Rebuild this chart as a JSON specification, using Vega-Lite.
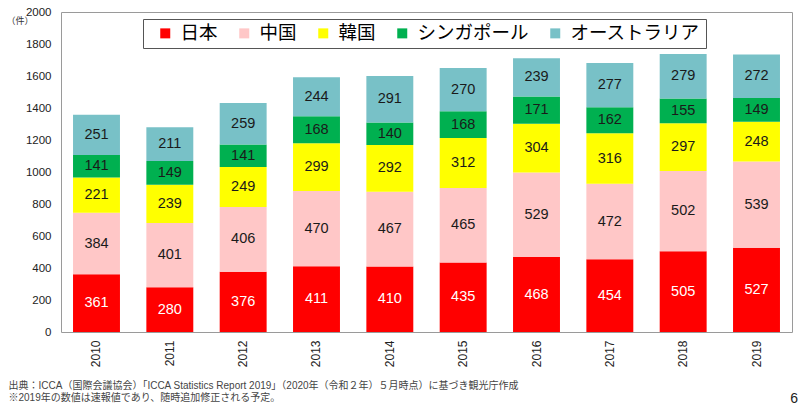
{
  "$schema": "https://vega.github.io/schema/vega-lite/v6.json",
  "width": 731,
  "height": 320,
  "autosize": {"type": "none"},
  "padding": {"left": 61, "top": 12, "right": 8, "bottom": 79},
  "background": "white",
  "config": {
    "font": "Liberation Sans, Noto Sans CJK JP",
    "view": {"stroke": "#9a9a9a", "strokeWidth": 1}
  },
  "title": {"text": "6", "orient": "bottom", "anchor": "end", "frame": "group", "fontSize": 14, "fontWeight": "normal", "color": "#222", "dx": 6, "offset": -10},
  "data": {"values": [
    {"year": "2010", "country": "日本", "count": 361},
    {"year": "2010", "country": "中国", "count": 384},
    {"year": "2010", "country": "韓国", "count": 221},
    {"year": "2010", "country": "シンガポール", "count": 141},
    {"year": "2010", "country": "オーストラリア", "count": 251},
    {"year": "2011", "country": "日本", "count": 280},
    {"year": "2011", "country": "中国", "count": 401},
    {"year": "2011", "country": "韓国", "count": 239},
    {"year": "2011", "country": "シンガポール", "count": 149},
    {"year": "2011", "country": "オーストラリア", "count": 211},
    {"year": "2012", "country": "日本", "count": 376},
    {"year": "2012", "country": "中国", "count": 406},
    {"year": "2012", "country": "韓国", "count": 249},
    {"year": "2012", "country": "シンガポール", "count": 141},
    {"year": "2012", "country": "オーストラリア", "count": 259},
    {"year": "2013", "country": "日本", "count": 411},
    {"year": "2013", "country": "中国", "count": 470},
    {"year": "2013", "country": "韓国", "count": 299},
    {"year": "2013", "country": "シンガポール", "count": 168},
    {"year": "2013", "country": "オーストラリア", "count": 244},
    {"year": "2014", "country": "日本", "count": 410},
    {"year": "2014", "country": "中国", "count": 467},
    {"year": "2014", "country": "韓国", "count": 292},
    {"year": "2014", "country": "シンガポール", "count": 140},
    {"year": "2014", "country": "オーストラリア", "count": 291},
    {"year": "2015", "country": "日本", "count": 435},
    {"year": "2015", "country": "中国", "count": 465},
    {"year": "2015", "country": "韓国", "count": 312},
    {"year": "2015", "country": "シンガポール", "count": 168},
    {"year": "2015", "country": "オーストラリア", "count": 270},
    {"year": "2016", "country": "日本", "count": 468},
    {"year": "2016", "country": "中国", "count": 529},
    {"year": "2016", "country": "韓国", "count": 304},
    {"year": "2016", "country": "シンガポール", "count": 171},
    {"year": "2016", "country": "オーストラリア", "count": 239},
    {"year": "2017", "country": "日本", "count": 454},
    {"year": "2017", "country": "中国", "count": 472},
    {"year": "2017", "country": "韓国", "count": 316},
    {"year": "2017", "country": "シンガポール", "count": 162},
    {"year": "2017", "country": "オーストラリア", "count": 277},
    {"year": "2018", "country": "日本", "count": 505},
    {"year": "2018", "country": "中国", "count": 502},
    {"year": "2018", "country": "韓国", "count": 297},
    {"year": "2018", "country": "シンガポール", "count": 155},
    {"year": "2018", "country": "オーストラリア", "count": 279},
    {"year": "2019", "country": "日本", "count": 527},
    {"year": "2019", "country": "中国", "count": 539},
    {"year": "2019", "country": "韓国", "count": 248},
    {"year": "2019", "country": "シンガポール", "count": 149},
    {"year": "2019", "country": "オーストラリア", "count": 272}
  ]},
  "transform": [
    {"calculate": "indexof(['日本', '中国', '韓国', 'シンガポール', 'オーストラリア'], datum.country)", "as": "stack_order"}
  ],
  "encoding": {
    "x": {
      "field": "year", "type": "ordinal",
      "scale": {"paddingInner": 0.36, "paddingOuter": 0.164},
      "axis": {
        "labelAngle": -90, "labelPadding": 8, "labelFontSize": 12, "labelColor": "#222",
        "ticks": false, "domain": false,
        "title": ["出典：ICCA（国際会議協会）「ICCA Statistics Report 2019」（2020年（令和２年）５月時点）に基づき観光庁作成", "※2019年の数値は速報値であり、随時追加修正される予定。"],
        "titleX": -53, "titleY": 48, "titleAnchor": null, "titleAlign": "left", "titleBaseline": "top",
        "titleFontSize": 10, "titleFontWeight": "normal", "titleLineHeight": 12, "titleColor": "#444"
      }
    },
    "y": {
      "field": "count", "type": "quantitative", "stack": "zero",
      "scale": {"domain": [0, 2000]},
      "axis": {
        "values": [0, 200, 400, 600, 800, 1000, 1200, 1400, 1600, 1800, 2000],
        "format": "d",
        "grid": false, "ticks": false, "domain": false,
        "labelPadding": 10, "labelFontSize": 11.5, "labelColor": "#222",
        "title": "（件）", "titleAngle": 0, "titleX": -55, "titleY": 8, "titleAlign": "left", "titleBaseline": "middle",
        "titleFontSize": 9, "titleFontWeight": "normal", "titleColor": "#333"
      }
    },
    "order": {"field": "stack_order", "type": "quantitative", "sort": "ascending"}
  },
  "layer": [
    {
      "mark": {"type": "bar"},
      "encoding": {
        "color": {
          "field": "country", "type": "nominal",
          "sort": ["日本", "中国", "韓国", "シンガポール", "オーストラリア"],
          "scale": {"domain": ["日本", "中国", "韓国", "シンガポール", "オーストラリア"], "range": ["#ff0000", "#ffc7c7", "#ffff00", "#00b050", "#78c1c7"]},
          "legend": {
            "orient": "none", "legendX": 82, "legendY": 7, "direction": "horizontal", "columns": 5,
            "title": null, "symbolType": "square", "symbolSize": 100, "symbolStrokeWidth": 0, "symbolOffset": 8,
            "labelFontSize": 18.5, "labelFont": "Noto Sans CJK JP", "labelColor": "#000", "labelOffset": 6,
            "columnPadding": 9, "padding": 5, "strokeColor": "#555", "fillColor": "white", "labelLimit": 300
          }
        }
      }
    },
    {
      "mark": {"type": "text", "fontSize": 14.5, "baseline": "middle"},
      "encoding": {
        "y": {"field": "count", "type": "quantitative", "stack": "zero", "bandPosition": 0.5},
        "text": {"field": "count", "type": "quantitative"},
        "color": {
          "field": "country", "type": "nominal",
          "sort": ["日本", "中国", "韓国", "シンガポール", "オーストラリア"],
          "scale": {"domain": ["日本", "中国", "韓国", "シンガポール", "オーストラリア"], "range": ["#ffffff", "#1a1a1a", "#1a1a1a", "#1a1a1a", "#1a1a1a"]},
          "legend": null
        }
      }
    }
  ],
  "resolve": {"scale": {"color": "independent"}}
}
